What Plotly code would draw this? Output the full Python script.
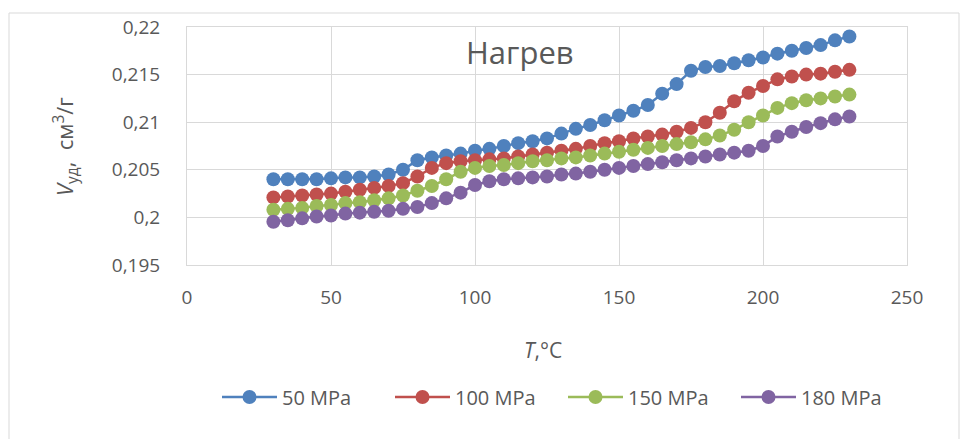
import plotly.graph_objects as go

# температура, °C
T = [30, 35, 40, 45, 50, 55, 60, 65, 70, 75, 80, 85, 90, 95, 100, 105, 110, 115, 120, 125,
     130, 135, 140, 145, 150, 155, 160, 165, 170, 175, 180, 185, 190, 195, 200, 205, 210,
     215, 220, 225, 230]

# удельный объем, см3/г
v_50 = [0.2040, 0.2040, 0.2040, 0.2040, 0.2041, 0.2042, 0.2042, 0.2043, 0.2045, 0.2050,
        0.2060, 0.2063, 0.2065, 0.2067, 0.2070, 0.2072, 0.2075, 0.2078, 0.2080, 0.2083,
        0.2088, 0.2093, 0.2097, 0.2102, 0.2107, 0.2112, 0.2118, 0.2130, 0.2140, 0.2154,
        0.2158, 0.2159, 0.2162, 0.2165, 0.2168, 0.2172, 0.2175, 0.2178, 0.2181, 0.2186,
        0.2190]
v_100 = [0.2021, 0.2022, 0.2023, 0.2024, 0.2025, 0.2027, 0.2029, 0.2031, 0.2033, 0.2036,
         0.2043, 0.2052, 0.2057, 0.2059, 0.2060, 0.2061, 0.2062, 0.2064, 0.2066, 0.2068,
         0.2070, 0.2072, 0.2075, 0.2078, 0.2080, 0.2083, 0.2085, 0.2087, 0.2090, 0.2094,
         0.2100, 0.2110, 0.2122, 0.2131, 0.2138, 0.2145, 0.2148, 0.2150, 0.2151, 0.2153,
         0.2155]
v_150 = [0.2008, 0.2009, 0.2010, 0.2012, 0.2013, 0.2015, 0.2016, 0.2018, 0.2020, 0.2023,
         0.2028, 0.2033, 0.2040, 0.2048, 0.2052, 0.2054, 0.2055, 0.2057, 0.2059, 0.2060,
         0.2062, 0.2063, 0.2065, 0.2067, 0.2069, 0.2071, 0.2073, 0.2075, 0.2077, 0.2079,
         0.2082, 0.2086, 0.2092, 0.2100, 0.2107, 0.2115, 0.2120, 0.2123, 0.2125, 0.2127,
         0.2129]
v_180 = [0.19955, 0.1997, 0.1999, 0.2001, 0.2002, 0.2004, 0.2005, 0.2006, 0.2007, 0.2009,
         0.2011, 0.2015, 0.2020, 0.2026, 0.2034, 0.2038, 0.2040, 0.2041, 0.2042, 0.2043,
         0.2045, 0.2046, 0.2048, 0.2050, 0.2052, 0.2054, 0.2056, 0.2058, 0.2060, 0.2062,
         0.2064, 0.2066, 0.2068, 0.2070, 0.2075, 0.2085, 0.2090, 0.2095, 0.2099, 0.2103,
         0.2106]

series_names = ['50 MPa', '100 MPa', '150 MPa', '180 MPa']
series_colors = ['#4F81BD', '#C0504D', '#9BBB59', '#8064A2']

y_tickvals = [0.195, 0.2, 0.205, 0.21, 0.215, 0.22]
y_ticktext = ['0,195', '0,2', '0,205', '0,21', '0,215', '0,22']
x_tickvals = [0, 50, 100, 150, 200, 250]

FONT = 'Open Sans'
GREY = '#595959'
GRID = '#D9D9D9'

# страница добавляет отступ 8px, поэтому всё сдвинуто на -8
OFF = 8
W, H = 969, 439
L, TOP = 187 - OFF, 27 - OFF
pw, ph = 720, 238
R = W - L - pw
B = H - TOP - ph


# пиксели картинки -> координаты paper
def px_x(p):
    return (p - OFF - L) / pw


def px_y(p):
    return (TOP + ph - (p - OFF)) / ph


fig = go.Figure()

for name, vals, color in zip(series_names, [v_50, v_100, v_150, v_180], series_colors):
    fig.add_trace(go.Scatter(
        x=T, y=vals, name=name, mode='lines+markers',
        line=dict(color=color, width=2.5),
        marker=dict(color=color, size=14),
    ))

fig.update_layout(
    width=W, height=H,
    margin=dict(l=L, r=R, t=TOP, b=B, autoexpand=False),
    plot_bgcolor='white', paper_bgcolor='white',
    font=dict(family=FONT, size=19, color=GREY),
    showlegend=True,
    legend=dict(orientation='h', x=px_x(217), xanchor='left', y=px_y(397), yanchor='middle',
                font=dict(size=20, color=GREY), itemwidth=55, entrywidth=103,
                entrywidthmode='pixels', traceorder='normal'),
    xaxis=dict(range=[0, 250], tickvals=x_tickvals, showgrid=True, gridcolor=GRID, gridwidth=1,
               showline=True, linecolor=GRID, mirror=True, zeroline=False,
               ticks='', ticklabelstandoff=15),
    yaxis=dict(range=[0.195, 0.22], tickvals=y_tickvals, ticktext=y_ticktext, showgrid=True,
               gridcolor=GRID, gridwidth=1, showline=True, linecolor=GRID, mirror=True,
               zeroline=False, ticks='', ticklabelstandoff=22),
    annotations=[
        dict(text='Нагрев', x=px_x(520), y=px_y(52), xref='paper', yref='paper',
             showarrow=False, font=dict(size=31, color=GREY), xanchor='center', yanchor='middle'),
        dict(text='<i>T</i>,°C', x=px_x(543), y=px_y(350), xref='paper', yref='paper',
             showarrow=False, font=dict(size=21, color=GREY), xanchor='center', yanchor='middle'),
        dict(text='<i>V</i><sub>уд</sub>,  см<sup>3</sup>/г', x=px_x(65), y=px_y(147),
             xref='paper', yref='paper', showarrow=False, textangle=-90,
             font=dict(size=22, color=GREY), xanchor='center', yanchor='middle'),
    ],
    shapes=[
        dict(type='rect', xref='paper', yref='paper', x0=px_x(9), x1=px_x(959),
             y0=px_y(470), y1=px_y(13), line=dict(color=GRID, width=1), layer='below'),
    ],
)

fig.write_html('out.html')
